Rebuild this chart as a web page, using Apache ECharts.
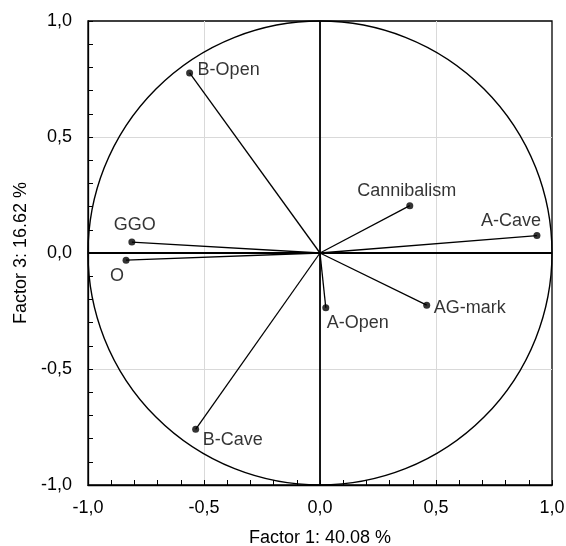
<!DOCTYPE html>
<html>
<head>
<meta charset="utf-8">
<script src="https://cdn.jsdelivr.net/npm/echarts@6/dist/echarts.min.js"></script>
<style>
  html, body { margin: 0; padding: 0; background: #fff; }
  #chart { width: 566px; height: 546px; }
</style>
</head>
<body>
<div id="chart"></div>
<script>
// Variable loadings on factor 1 (x) and factor 3 (y)
const variables = ['B-Open', 'Cannibalism', 'A-Cave', 'AG-mark', 'A-Open', 'GGO', 'O', 'B-Cave'];
const factor1 = [-0.562, 0.387, 0.935, 0.460, 0.025, -0.811, -0.836, -0.536];
const factor3 = [0.776, 0.204, 0.075, -0.225, -0.236, 0.047, -0.031, -0.760];

const xTitle = 'Factor 1: 40.08 %';
const yTitle = 'Factor 3: 16.62 %';

// Label placement around each point: [align, dx, dy]
const labelPlace = {
  'B-Open':      ['left', 8, -3],
  'Cannibalism': ['center', -3, -15],
  'A-Cave':      ['center', -26, -15],
  'AG-mark':     ['left', 7, 3],
  'A-Open':      ['left', 1, 15],
  'GGO':         ['center', 3, -17],
  'O':           ['center', -9, 16],
  'B-Cave':      ['left', 7, 11]
};

const FONT = 'Liberation Sans, Arial, sans-serif';
const comma = v => v.toFixed(1).replace('.', ',');

const points = variables.map((n, i) => [factor1[i], factor3[i], n]);

const chart = echarts.init(document.getElementById('chart'));

const axisCommon = {
  min: -1, max: 1, interval: 0.5,
  axisLine: { onZero: false, lineStyle: { color: '#000', width: 1.3 } },
  axisTick: { inside: true, length: 5, lineStyle: { color: '#000' } },
  minorTick: { show: true, splitNumber: 5, length: 5, lineStyle: { color: '#000' } },
  splitLine: { show: true, showMinLine: false, showMaxLine: false, lineStyle: { color: '#d9d9d9', width: 1 } },
  axisLabel: { formatter: comma, color: '#000', fontSize: 18, fontFamily: FONT },
  nameTextStyle: { color: '#000', fontSize: 18, fontFamily: FONT }
};

chart.setOption({
  animation: false,
  grid: {
    left: 88, top: 21, width: 464, height: 464,
    outerBoundsMode: 'none', containLabel: false,
    show: true, borderColor: '#000', borderWidth: 1.3, backgroundColor: 'transparent'
  },
  xAxis: Object.assign({}, axisCommon, {
    type: 'value', name: xTitle, nameLocation: 'middle', nameGap: 44,
    axisLabel: Object.assign({}, axisCommon.axisLabel, { margin: 14 })
  }),
  yAxis: Object.assign({}, axisCommon, {
    type: 'value', name: yTitle, nameLocation: 'middle', nameGap: 58,
    axisLabel: Object.assign({}, axisCommon.axisLabel, { margin: 16 })
  }),
  series: [
    {
      // unit circle of correlations, zero axes and the loading vectors
      type: 'custom',
      data: points,
      encode: { x: 0, y: 1 },
      clip: false,
      z: 2,
      renderItem: function (params, api) {
        const o = api.coord([0, 0]);
        const p = api.coord([api.value(0), api.value(1)]);
        const children = [];
        if (params.dataIndex === 0) {
          const r = api.size([1, 1]);
          const lo = api.coord([-1, -1]), hi = api.coord([1, 1]);
          children.push({
            type: 'circle', shape: { cx: o[0], cy: o[1], r: r[0] },
            style: { fill: 'none', stroke: '#000', lineWidth: 1.4 }
          });
          children.push({
            type: 'line', shape: { x1: lo[0], y1: o[1], x2: hi[0], y2: o[1] },
            style: { stroke: '#000', lineWidth: 1.8 }
          });
          children.push({
            type: 'line', shape: { x1: o[0], y1: lo[1], x2: o[0], y2: hi[1] },
            style: { stroke: '#000', lineWidth: 1.8 }
          });
        }
        children.push({
          type: 'line', shape: { x1: o[0], y1: o[1], x2: p[0], y2: p[1] },
          style: { stroke: '#000', lineWidth: 1.3 }
        });
        return { type: 'group', children: children };
      }
    },
    {
      type: 'scatter',
      data: points,
      symbol: 'circle',
      symbolSize: 7,
      z: 3,
      itemStyle: { color: '#000' },
      label: {
        show: true,
        formatter: p => p.data[2],
        color: '#000',
        fontSize: 18,
        fontFamily: FONT
      },
      labelLayout: function (params) {
        const name = points[params.dataIndex][2];
        const pl = labelPlace[name];
        const r = params.rect;
        const cx = r.x + r.width / 2, cy = r.y + r.height / 2;
        return {
          x: cx + pl[1], y: cy + pl[2],
          align: pl[0], verticalAlign: 'middle'
        };
      }
    }
  ]
});
</script>
</body>
</html>
